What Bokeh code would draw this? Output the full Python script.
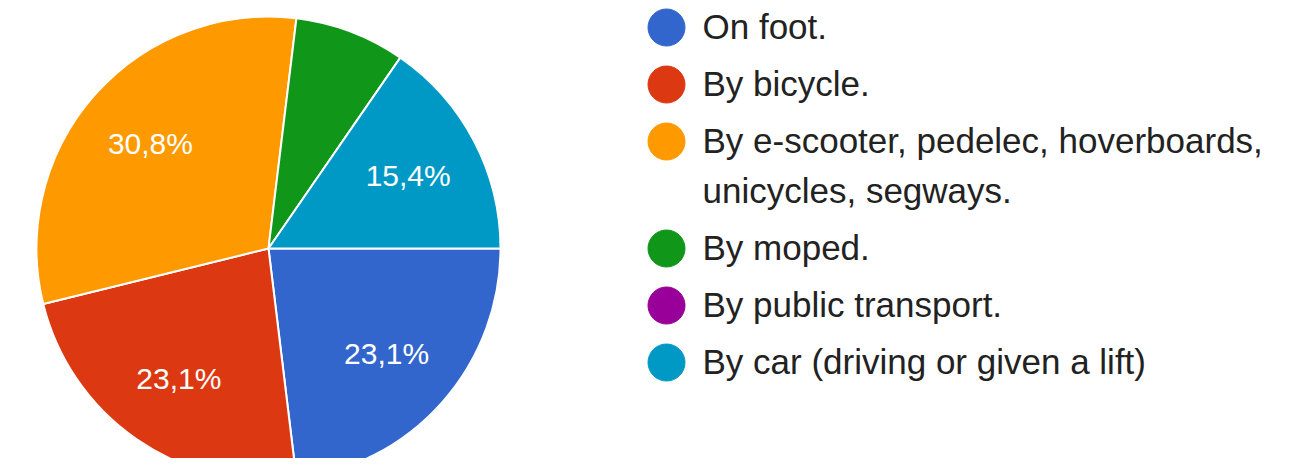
import math
from bokeh.plotting import figure
from bokeh.models import Range1d, ColumnDataSource
from bokeh.core.properties import value
from bokeh.embed import file_html
from bokeh.resources import INLINE

categories = ["On foot.", "By bicycle.", "By e-scooter, pedelec, hoverboards,\nunicycles, segways.",
              "By moped.", "By public transport.", "By car (driving or given a lift)"]
counts = [3, 3, 4, 1, 0, 2]
colors = ["#3366cc", "#dc3912", "#ff9900", "#109618", "#990099", "#0099c6"]

W, H = 1298, 458
p = figure(width=W, height=H, output_backend="svg", toolbar_location=None,
           x_range=Range1d(0, W), y_range=Range1d(0, H),
           min_border=0, outline_line_color=None)
p.axis.visible = False
p.grid.visible = False
p.background_fill_color = "white"

cx, cy, r = 268, H - 248, 232
total = sum(counts)
cum = 0.0
ws = dict(start=[], end=[], color=[])
labs = dict(x=[], y=[], t=[])
for c, col in zip(counts, colors):
    f0 = cum / total
    cum += c
    f1 = cum / total
    if c == 0:
        continue
    ws["start"].append(-f1 * 2 * math.pi)
    ws["end"].append(-f0 * 2 * math.pi)
    ws["color"].append(col)
    frac = c / total
    if frac >= 0.1:
        mid = -(f0 + f1) / 2 * 2 * math.pi
        labs["x"].append(cx + 0.68 * r * math.cos(mid))
        labs["y"].append(cy + 0.68 * r * math.sin(mid))
        labs["t"].append(f"{frac * 100:.1f}%".replace(".", ","))

p.wedge(x=cx, y=cy, radius=r, start_angle="start", end_angle="end", direction="anticlock",
        fill_color="color", line_color="white", line_width=2, source=ColumnDataSource(ws))
p.text(x="x", y="y", text="t", source=ColumnDataSource(labs), text_color="white",
       text_font=value("Liberation Sans"), text_font_size="30px",
       text_align="center", text_baseline="middle")

# legend
lx_dot, lx_text = 666, 702
row_y = 27
leg_dots = dict(x=[], y=[], c=[])
leg_text = dict(x=[], y=[], t=[])
for cat, col in zip(categories, colors):
    lines = cat.split("\n")
    leg_dots["x"].append(lx_dot)
    leg_dots["y"].append(H - row_y)
    leg_dots["c"].append(col)
    for i, ln in enumerate(lines):
        leg_text["x"].append(lx_text)
        leg_text["y"].append(H - (row_y - 1 + 50 * i))
        leg_text["t"].append(ln)
    row_y += 57 + 50 * (len(lines) - 1)

p.scatter(x="x", y="y", fill_color="c", line_color="c", size=37, source=ColumnDataSource(leg_dots))
p.text(x="x", y="y", text="t", source=ColumnDataSource(leg_text), text_color="#222222",
       text_font=value("Liberation Sans"), text_font_size="35px",
       text_align="left", text_baseline="middle")

open("out.html", "w").write(file_html(p, INLINE))
